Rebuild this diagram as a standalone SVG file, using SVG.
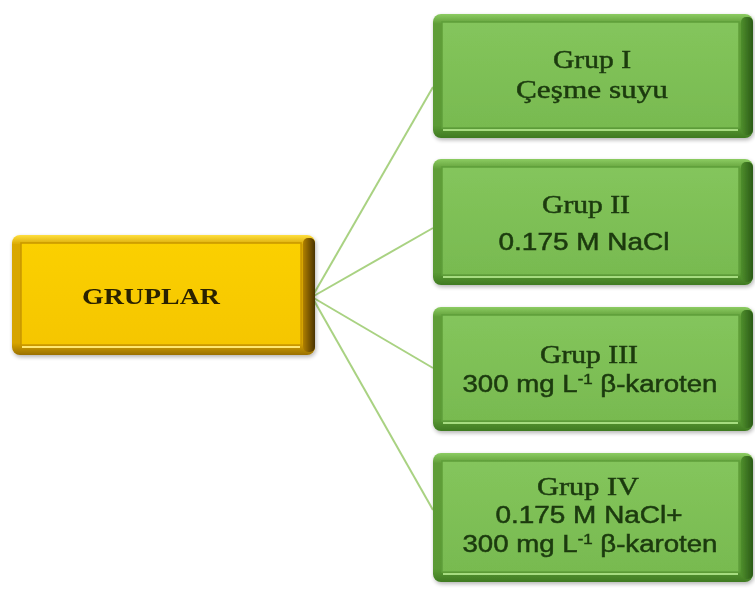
<svg xmlns="http://www.w3.org/2000/svg" width="755" height="592" viewBox="0 0 755 592">
<defs>
<linearGradient id="gv" x1="0" y1="0" x2="0" y2="1">
<stop offset="0" stop-color="#8ccc62"/>
<stop offset="0.08" stop-color="#5f9d38"/>
<stop offset="0.9" stop-color="#5a9a34"/>
<stop offset="1" stop-color="#3f7a22"/>
</linearGradient>
<linearGradient id="gside" x1="0" y1="0" x2="1" y2="0">
<stop offset="0" stop-color="#4f8e2c"/>
<stop offset="1" stop-color="#2a5a16"/>
</linearGradient>
<linearGradient id="gface" x1="0" y1="0" x2="0" y2="1">
<stop offset="0" stop-color="#84c55c"/>
<stop offset="1" stop-color="#78ba50"/>
</linearGradient>
<linearGradient id="yv" x1="0" y1="0" x2="0" y2="1">
<stop offset="0" stop-color="#ffdf40"/>
<stop offset="0.08" stop-color="#d9a800"/>
<stop offset="0.9" stop-color="#d6a400"/>
<stop offset="1" stop-color="#9a7000"/>
</linearGradient>
<linearGradient id="yside" x1="0" y1="0" x2="1" y2="0">
<stop offset="0" stop-color="#b08000"/>
<stop offset="1" stop-color="#4a3200"/>
</linearGradient>
<linearGradient id="yface" x1="0" y1="0" x2="0" y2="1">
<stop offset="0" stop-color="#fbd000"/>
<stop offset="1" stop-color="#f5c600"/>
</linearGradient>
<filter id="sh" x="-5%" y="-5%" width="112%" height="115%">
<feGaussianBlur in="SourceAlpha" stdDeviation="2"/>
<feOffset dx="1" dy="2"/>
<feComponentTransfer><feFuncA type="linear" slope="0.3"/></feComponentTransfer>
<feMerge><feMergeNode/><feMergeNode in="SourceGraphic"/></feMerge>
</filter>
</defs>
<style>
.con{stroke:#a9d282;stroke-width:2;fill:none}
.gt{fill:#1c3a10;stroke:#1c3a10;stroke-width:0.5;text-anchor:middle}
.serif{font-family:"Liberation Serif","Times New Roman",serif;font-size:26px}
.sans{font-family:"Liberation Sans",Arial,sans-serif;font-size:23px}
.gface{fill:url(#gface);stroke:#5f9e3a;stroke-width:1.5}
.yface{fill:url(#yface);stroke:#c89600;stroke-width:1.5}
.ghl{stroke:#a6dc80;stroke-width:2}
.yhl{stroke:#ffe870;stroke-width:2}
</style>
<rect width="755" height="592" fill="#ffffff"/>
<g id="connectors">
<line class="con" x1="312" y1="297" x2="433" y2="87"/>
<line class="con" x1="312" y1="297" x2="433" y2="228"/>
<line class="con" x1="312" y1="297" x2="433" y2="368"/>
<line class="con" x1="312" y1="297" x2="433" y2="510"/>
</g>
<g id="gruplar" filter="url(#sh)">
<rect x="12" y="235" width="303" height="120" rx="8" fill="url(#yv)"/>
<rect x="303" y="238" width="12" height="114" rx="5" fill="url(#yside)"/>
<rect x="21" y="243" width="280" height="102" class="yface"/>
<line class="yhl" x1="22" y1="347" x2="300" y2="347"/>
<text x="151" y="304" fill="#2b2200" text-anchor="middle" font-family="Liberation Serif,Times New Roman,serif" font-size="23" font-weight="bold" textLength="138" lengthAdjust="spacingAndGlyphs">GRUPLAR</text>
</g>
<g id="grup1" filter="url(#sh)">
<rect x="433" y="14" width="320" height="124" rx="8" fill="url(#gv)"/>
<rect x="741" y="17" width="12" height="118" rx="5" fill="url(#gside)"/>
<rect x="442" y="22" width="297" height="106" class="gface"/>
<line class="ghl" x1="443" y1="130" x2="738" y2="130"/>
<text class="gt serif" x="592" y="68" textLength="78" lengthAdjust="spacingAndGlyphs">Grup I</text>
<text class="gt serif" x="592" y="98" textLength="152" lengthAdjust="spacingAndGlyphs">Çeşme suyu</text>
</g>
<g id="grup2" filter="url(#sh)">
<rect x="433" y="159" width="320" height="126" rx="8" fill="url(#gv)"/>
<rect x="741" y="162" width="12" height="120" rx="5" fill="url(#gside)"/>
<rect x="442" y="167" width="297" height="108" class="gface"/>
<line class="ghl" x1="443" y1="277" x2="738" y2="277"/>
<text class="gt serif" x="586" y="213" textLength="88" lengthAdjust="spacingAndGlyphs">Grup II</text>
<text class="gt sans" x="584" y="250" textLength="171" lengthAdjust="spacingAndGlyphs">0.175 M NaCl</text>
</g>
<g id="grup3" filter="url(#sh)">
<rect x="433" y="307" width="320" height="124" rx="8" fill="url(#gv)"/>
<rect x="741" y="310" width="12" height="118" rx="5" fill="url(#gside)"/>
<rect x="442" y="315" width="297" height="106" class="gface"/>
<line class="ghl" x1="443" y1="423" x2="738" y2="423"/>
<text class="gt serif" x="589" y="363" textLength="98" lengthAdjust="spacingAndGlyphs">Grup III</text>
<text class="gt sans" x="590" y="392" textLength="255" lengthAdjust="spacingAndGlyphs">300 mg L<tspan font-size="14" dy="-8">-1</tspan><tspan dy="8"> β-karoten</tspan></text>
</g>
<g id="grup4" filter="url(#sh)">
<rect x="433" y="453" width="320" height="129" rx="8" fill="url(#gv)"/>
<rect x="741" y="456" width="12" height="123" rx="5" fill="url(#gside)"/>
<rect x="442" y="461" width="297" height="111" class="gface"/>
<line class="ghl" x1="443" y1="574" x2="738" y2="574"/>
<text class="gt serif" x="588" y="495" textLength="102" lengthAdjust="spacingAndGlyphs">Grup IV</text>
<text class="gt sans" x="589" y="523" textLength="187" lengthAdjust="spacingAndGlyphs">0.175 M NaCl+</text>
<text class="gt sans" x="590" y="552" textLength="255" lengthAdjust="spacingAndGlyphs">300 mg L<tspan font-size="14" dy="-8">-1</tspan><tspan dy="8"> β-karoten</tspan></text>
</g>
</svg>
